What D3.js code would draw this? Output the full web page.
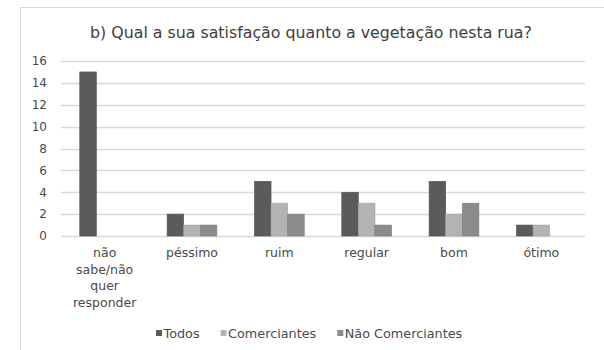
<!DOCTYPE html>
<html><head><meta charset="utf-8">
<script src="https://cdn.jsdelivr.net/npm/d3@7"></script>
<style>html,body{margin:0;padding:0;background:#fff;}svg{display:block;}</style>
</head><body><svg id="c" width="604" height="350"></svg>
<script>
const title = "b) Qual a sua satisfação quanto a vegetação nesta rua?";
const categories = ["não sabe/não quer responder", "péssimo", "ruim", "regular", "bom", "ótimo"];
const categoryLines = [["não", "sabe/não", "quer", "responder"], ["péssimo"], ["ruim"], ["regular"], ["bom"], ["ótimo"]];
const seriesNames = ["Todos", "Comerciantes", "Não Comerciantes"];
const todos = [15, 2, 5, 4, 5, 1];
const comerciantes = [0, 1, 3, 3, 2, 1];
const naoComerciantes = [0, 1, 2, 1, 3, 0];
const yTicks = [0, 2, 4, 6, 8, 10, 12, 14, 16];
const colors = ["#5b5b5b", "#b3b3b3", "#8b8b8b"];

(function () {
const series = [todos, comerciantes, naoComerciantes];
const svg = d3.select("#c");
const font = "'DejaVu Sans', sans-serif";
const textColor = "#4a4a4a";

// chart border
svg.append("rect").attr("x", 20.5).attr("y", 7.5).attr("width", 700).attr("height", 400)
  .attr("fill", "#fff").attr("stroke", "#d9d9d9").attr("stroke-width", 1);

const pl = 61, pr = 585, pt = 61, pb = 236;
const x = d3.scaleBand().domain(categories).range([pl, pr]).paddingInner(0.43).paddingOuter(0.215);
const xs = d3.scaleBand().domain(d3.range(series.length)).range([0, x.bandwidth()]);
const y = d3.scaleLinear().domain([0, 16]).range([pb, pt]);

// gridlines
svg.append("g").selectAll("line").data(yTicks).join("line")
  .attr("x1", pl).attr("x2", pr)
  .attr("y1", d => Math.round(y(d)) + 0.5).attr("y2", d => Math.round(y(d)) + 0.5)
  .attr("stroke", "#d9d9d9").attr("stroke-width", 1.3);

// y axis labels
const yAxis = svg.append("g").attr("transform", `translate(${pl},0)`)
  .call(d3.axisLeft(y).tickValues(yTicks).tickSize(0).tickPadding(14));
yAxis.select(".domain").remove();
yAxis.selectAll("text").attr("font-family", font).attr("font-size", 12).attr("fill", textColor);

// bars
const groups = svg.append("g").selectAll("g").data(categories).join("g")
  .attr("transform", c => `translate(${x(c)},0)`);
groups.selectAll("rect").data((c, i) => series.map((s, k) => ({k, v: s[i]}))).join("rect")
  .attr("x", d => xs(d.k)).attr("width", xs.bandwidth())
  .attr("y", d => y(d.v)).attr("height", d => y(0) - y(d.v))
  .attr("fill", d => colors[d.k])
  .attr("stroke", d => d3.color(colors[d.k]).darker(0.3)).attr("stroke-width", 0.6);

// x labels
const xl = svg.append("g");
categories.forEach((c, i) => {
  const cx = x(c) + x.bandwidth() / 2;
  const t = xl.append("text").attr("x", cx).attr("y", 257)
    .attr("text-anchor", "middle").attr("font-family", font).attr("font-size", 12.5).attr("fill", textColor);
  categoryLines[i].forEach((ln, j) => {
    t.append("tspan").attr("x", cx).attr("dy", j === 0 ? 0 : 16.7).text(ln);
  });
});

// title
svg.append("text").attr("x", 311).attr("y", 38).attr("text-anchor", "middle")
  .attr("font-family", font).attr("font-size", 15.8).attr("fill", "#404040").text(title);

// legend
const lg = svg.append("g");
let lx = 156;
seriesNames.forEach((n, k) => {
  lg.append("rect").attr("x", lx).attr("y", 330).attr("width", 6).attr("height", 6).attr("fill", colors[k]);
  const t = lg.append("text").attr("x", lx + 7.5).attr("y", 337.5).attr("font-family", font)
    .attr("font-size", 12.8).attr("fill", textColor).text(n);
  lx += 7.5 + t.node().getComputedTextLength() + 21;
});
})();
</script></body></html>
